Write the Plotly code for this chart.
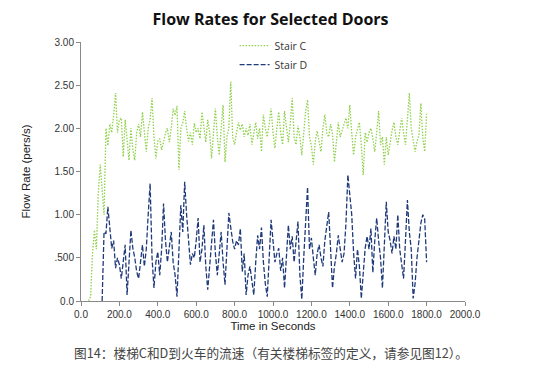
import plotly.graph_objects as go

# Stair C: sampled every 10 s from 40 s to 1800 s
stair_c_time = list(range(40, 1801, 10))
stair_c_rate = [
    0.0, 0.05, 0.55, 0.82, 0.6, 1.25, 1.58, 1.3, 1.0, 2.0,
    1.8, 2.05, 1.95, 2.15, 2.41, 1.95, 2.1, 2.12, 1.67, 2.1,
    1.9, 1.63, 2.0, 1.75, 1.63, 1.95, 2.05, 1.9, 2.19, 1.95,
    1.73, 2.0, 2.1, 2.35, 1.9, 1.65, 1.85, 1.88, 1.75, 1.84,
    1.95, 2.0, 1.84, 2.0, 2.23, 2.15, 2.26, 1.52, 2.0, 2.06,
    2.2, 2.0, 1.85, 1.95, 1.81, 2.06, 1.95, 2.0, 1.88, 2.19,
    2.0, 1.84, 2.1, 1.95, 1.65, 1.98, 2.23, 1.9, 1.69, 2.0,
    2.27, 1.61, 1.9, 2.0, 2.54, 1.9, 1.81, 1.95, 2.07, 1.98,
    2.05, 1.9, 2.0, 1.92, 2.05, 1.81, 1.95, 2.07, 1.88, 2.0,
    1.73, 2.16, 2.0, 1.9, 2.05, 2.23, 1.95, 1.77, 2.0, 2.19,
    1.95, 1.81, 2.2, 2.0, 1.84, 2.05, 2.35, 1.9, 1.81, 2.03,
    1.9, 1.69, 2.0, 2.2, 2.33, 1.9, 1.8, 1.58, 1.85, 1.97,
    1.85, 1.73, 2.0, 2.16, 1.95, 1.9, 2.05, 1.93, 1.61, 1.85,
    2.07, 1.9, 1.97, 2.05, 2.12, 2.0, 2.27, 1.95, 1.69, 1.9,
    2.0, 2.07, 1.8, 1.46, 1.95, 1.84, 1.95, 2.0, 1.88, 1.73,
    1.95, 2.2, 1.81, 1.9, 1.58, 1.9, 1.69, 1.85, 1.97, 2.07,
    1.9, 1.81, 2.0, 2.12, 1.95, 1.81, 2.1, 2.41, 2.0, 1.85,
    1.73, 1.85, 1.92, 2.29, 1.9, 1.73, 2.17,
]

# Stair D: sampled every 10 s from 110 s to 1800 s
stair_d_time = list(range(110, 1801, 10))
stair_d_rate = [
    0.0, 0.8, 0.78, 1.09, 0.85, 0.61, 0.7, 0.38, 0.5, 0.42,
    0.26, 0.45, 0.65, 0.07, 0.4, 0.82, 0.61, 0.5, 0.34, 0.26,
    0.45, 0.65, 0.4, 0.6, 1.0, 1.36, 0.5, 0.15, 0.45, 0.57,
    0.3, 0.6, 1.13, 0.7, 0.45, 0.6, 0.8, 0.45, 0.3, 0.05,
    0.6, 1.11, 0.8, 1.38, 1.0, 0.75, 0.42, 0.55, 0.5, 0.7,
    0.96, 0.45, 0.6, 0.88, 0.4, 0.13, 0.4, 0.6, 0.94, 0.55,
    0.3, 0.55, 0.8, 0.45, 0.19, 0.6, 1.02, 0.85, 0.69, 0.6,
    0.7, 0.65, 0.84, 0.34, 0.55, 0.07, 0.3, 0.4, 0.25, 0.07,
    0.45, 0.76, 0.6, 0.85, 0.45, 0.2, 0.05, 0.5, 0.94, 0.7,
    0.45, 0.55, 0.61, 0.35, 0.5, 0.15, 0.5, 0.88, 0.6, 0.75,
    0.45, 0.65, 0.92, 0.3, 0.02, 0.5, 0.9, 1.32, 0.6, 0.73,
    0.5, 0.3, 0.55, 0.65, 0.5, 0.4, 0.7, 0.85, 1.03, 0.6,
    0.15, 0.4, 0.55, 0.76, 0.6, 0.45, 0.55, 0.9, 1.46, 1.2,
    1.0, 0.55, 0.26, 0.6, 0.4, 0.03, 0.3, 0.61, 0.75, 0.6,
    0.84, 0.33, 0.7, 0.96, 0.7, 0.5, 0.15, 0.6, 1.15, 0.8,
    0.7, 0.55, 0.75, 0.6, 1.0, 0.6, 0.45, 0.26, 0.7, 1.17,
    0.8, 0.6, 0.03, 0.2, 0.5, 0.73, 0.9, 1.0, 0.95, 0.45,
]

x_ticks = [0, 200, 400, 600, 800, 1000, 1200, 1400, 1600, 1800, 2000]
x_tick_labels = ["0.0", "200.0", "400.0", "600.0", "800.0", "1000.0",
                 "1200.0", "1400.0", "1600.0", "1800.0", "2000.0"]
y_ticks = [0, 0.5, 1.0, 1.5, 2.0, 2.5, 3.0]
y_tick_labels = ["0.0", ".500", "1.00", "1.50", "2.00", "2.50", "3.00"]

title_text = "Flow Rates for Selected Doors"
x_title = "Time in Seconds"
y_title = "Flow Rate (pers/s)"
caption = "图14：楼梯C和D到火车的流速（有关楼梯标签的定义，请参见图12）。"

fig = go.Figure()
fig.add_trace(go.Scatter(
    x=stair_c_time, y=stair_c_rate, mode="lines", name="Stair C",
    line=dict(color="#8fd14a", width=1.3, dash="1.5px,1.5px"),
))
fig.add_trace(go.Scatter(
    x=stair_d_time, y=stair_d_rate, mode="lines", name="Stair D",
    line=dict(color="#1f3a7a", width=1.3, dash="5px,2px"),
))

axis_common = dict(
    showgrid=False, zeroline=False, showline=True, linecolor="#8a8a8a",
    linewidth=1, ticks="outside", ticklen=4, tickcolor="#8a8a8a",
    automargin=False,
    tickfont=dict(family="Liberation Sans, Arial, sans-serif", size=10, color="#333333"),
)

fig.update_layout(
    width=541, height=365,
    margin=dict(l=81, r=76, t=42, b=64, autoexpand=False),
    paper_bgcolor="white", plot_bgcolor="white",
    hovermode=False,
    title=dict(text="<b>" + title_text + "</b>", x=0.5, xanchor="center",
               y=1 - 19 / 365, yanchor="middle",
               font=dict(family="Open Sans, Arial, sans-serif", size=16, color="#111111")),
    xaxis=dict(range=[0, 2000], tickvals=x_ticks, ticktext=x_tick_labels,
               title=dict(text=x_title, standoff=2,
                          font=dict(family="Liberation Sans, Arial, sans-serif", size=11.5, color="#222222")),
               **axis_common),
    yaxis=dict(range=[0, 3], tickvals=y_ticks, ticktext=y_tick_labels,
               title=dict(text=y_title, standoff=21,
                          font=dict(family="Liberation Sans, Arial, sans-serif", size=11.5, color="#222222")),
               **axis_common),
    legend=dict(x=0.40, y=1.042, xanchor="left", yanchor="top",
                bgcolor="rgba(0,0,0,0)", tracegroupgap=0, itemwidth=30,
                font=dict(family="Open Sans, sans-serif", size=10.5, color="#333333")),
    showlegend=True,
)

fig.add_annotation(
    text=caption, xref="paper", yref="paper",
    x=(271 - 81) / 384, y=-(352 - 301) / 259, xanchor="center", yanchor="middle",
    showarrow=False,
    font=dict(family="Noto Sans CJK SC, sans-serif", size=12.7, color="#444444"),
)

fig.write_html(
    "out.html",
    config={"displayModeBar": False, "staticPlot": True},
    post_script="document.body.style.margin='0';document.body.style.overflow='hidden';",
)
